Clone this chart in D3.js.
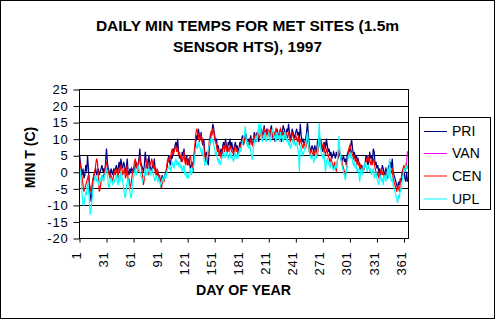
<!DOCTYPE html>
<html>
<head>
<meta charset="utf-8">
<script src="https://cdn.jsdelivr.net/npm/d3@7"></script>
<style>
  html, body { margin: 0; padding: 0; background: #fff; }
  svg { display: block; }
  text { font-family: "Liberation Sans", Arial, sans-serif; fill: #000; }
</style>
</head>
<body>
<svg id="chart" width="497" height="321"></svg>
<script>
// ---- data ----
const titleLines = ["DAILY MIN TEMPS FOR MET SITES (1.5m", "SENSOR HTS), 1997"];
const xTitle = "DAY OF YEAR";
const yTitle = "MIN T (C)";
const seriesNames = ["PRI", "VAN", "CEN", "UPL"];
const seriesColors = ["#000080", "#FF00FF", "#FF0000", "#00FFFF"];
const xTickLabels = ["1","31","61","91","121","151","181","211","241","271","301","331","361"];
const yTickValues = [-20,-15,-10,-5,0,5,10,15,20,25];

const PRI = [
  5.5, 3, 1, -1, 1, -2, -1, 2, 0, 5,
  1, -4, -7, -9, -6, -3, -1, 0, 1, -1,
  0, 1, -1, 0, 1, 2, 0, 1, -1, 3,
  7, 3, 1, 0, -1, 1, 0, -1, 1, 0,
  1, 2, 0, 1, 3, 1, 4, 2, 1, 3,
  2, 0, 1, 4, 0, -1, 1, 0, 1, 0,
  1, 0, 2, 3, 1, 2, 4, 7, 3, 2,
  1, 0, 2, 6, 3, 1, 2, 5, 2, 1,
  0, 2, 1, 4, 1, 0, -1, 0, -1, -2,
  -3, -2, -1, -3, -2, -1, 0, 1, 3, 5,
  3, 2, 5, 4, 7, 6, 8, 9, 7, 10,
  6, 4, 5, 3, 6, 5, 7, 4, 3, 5,
  2, 4, 3, 1, 2, 3, 0, 4, 6, 9,
  11, 10, 13, 11, 10, 12, 9, 8, 10, 6,
  4, 6, 3, 2, 7, 9, 11, 12, 14.5, 13,
  11, 9, 10, 7, 8, 6, 5, 7, 5, 8,
  9, 7, 10, 8, 6, 9, 8, 10, 7, 9,
  7, 6, 8, 9, 7, 8, 6, 7, 9, 8,
  10, 11, 9, 10, 12, 11, 9, 8, 10, 9,
  11, 9, 8, 10, 12, 11, 10, 12, 11, 9,
  12, 11, 13, 10, 12, 14, 11, 12, 13, 11,
  12, 10, 13, 14, 11, 10, 12, 9, 11, 13,
  12, 10, 11, 13, 9, 12, 14, 13, 12, 11,
  13, 12, 14.5, 12, 10, 11, 13, 12, 10, 11,
  12, 13, 11, 12, 10, 14.5, 11, 9, 10, 8,
  9, 10, 12, 15, 11, 8, 7, 6, 8, 7,
  6, 8, 7, 6, 9, 10, 11, 9, 8, 7,
  6, 8, 9, 7, 10, 8, 6, 7, 5, 6,
  4, 5, 6, 5, 4, 6, 5, 4, 6, 5,
  4, 3, 4, 5, 3, 4, 2, 5, 6, 7,
  5, 8, 9.8, 7, 5, 6, 4, 5, 3, 4,
  3, 2, 1, 2, 0, 2, 1, 3, 5, 4,
  2, 3, 6, 4, 5, 3, 7, 6, 2, 3,
  1, 2, 0, 1, -1, 0, 2, 1, -1, 0,
  1, 0, -1, 2, 1, 3, 1, 4, 0, -1,
  -2, -3, -4, -5, -3, -4, -2, -3, 0, -1,
  1, -2, -3, 0, -3
];

const CEN = [
  3.5, 2, 0, -2, -4, -6, -5, -4, -3, -2,
  -1, -3, -5, -6, -4, -2, -1, 0, 2, 4,
  3, -2, -6, -5, -3, -1, -2, -1, 0, 2,
  3, 1, 0, -1, -2, -1, -2, -3, -1, 0,
  -1, 1, 0, -2, 1, 0, 2, 1, -1, 0,
  1, -2, -1, 2, -3, -2, -5, -4, -2, 0,
  1, 3, 4, 2, 1, 0, 3, 5, 2, 1,
  -1, -4, -2, 0, 2, 4, 1, -1, 3, 2,
  4, 3, 1, 2, 0, -1, 1, 0, -2, -1,
  -4, -5, -3, -2, -3, -1, 0, 2, 4, 3,
  5, 4, 6, 7, 5, 6, 7, 8, 6, 7,
  5, 6, 4, 5, 3, 4, 6, 3, 2, 4,
  3, 2, 4, 5, 3, 1, 2, 5, 8, 11,
  13, 12, 11, 9, 10, 11, 10, 9, 8, 5,
  3, 5, 4, 6, 9, 11, 12, 11, 13, 12,
  10, 9, 8, 6, 7, 5, 6, 4, 6, 7,
  8, 6, 9, 7, 6, 7, 6, 8, 7, 6,
  6, 5, 7, 8, 6, 7, 5, 6, 7, 8,
  9, 10, 8, 9, 11, 10, 9, 8, 9, 8,
  10, 9, 8, 9, 11, 10, 9, 11, 12, 10,
  11, 12, 10, 11, 12, 13, 12, 11, 12, 13,
  11, 12, 13, 11, 12, 10, 11, 12, 13, 12,
  11, 10, 12, 13, 12, 11, 12, 11, 10, 12,
  11, 10, 12, 11, 9, 10, 12, 11, 9, 10,
  11, 10, 9, 11, 8, 10, 9, 8, 7, 9,
  8, 7, 9, 10, 8, 6, 5, 7, 6, 5,
  6, 5, 7, 6, 5, 7, 8, 9, 10, 7,
  8, 9, 6, 5, 7, 6, 5, 4, 3, 4,
  3, 2, 1, 3, 2, 0, 3, 5, 7, 6,
  5, 3, 2, 1, 0, -1, 0, 3, 5, 7,
  8, 7, 6, 5, 4, 5, 3, 4, 2, 3,
  2, 1, 2, 1, 0, 2, 1, 2, 3, 4,
  5, 3, 4, 2, 3, 2, 4, 3, 1, 0,
  -1, 0, -2, -1, 0, 1, -1, 0, -2, -1,
  0, -1, -2, 0, 1, -1, 0, 1, -2, -3,
  -4, -5, -6, -4, -5, -6, -3, -2, 0, 1,
  2, 0, 1, 2, 1
];

const UPL = [
  1.5, 0, -3, -7, -10, -10, -8, -6, -7, -3,
  -5, -9, -13, -11, -8, -5, -3, -2, -1, -3,
  -2, -4, -3, -2, -3, -1, -2, -3, -1, 0,
  1, -1, -4, -5, -3, -2, -3, -4, -2, -3,
  -2, -1, -3, -4, -1, -3, 0, -1, -3, -5,
  -7, -8, -5, -3, -2, -4, -6, -8, -7, -3,
  -2, 0, 1, -1, 0, 2, 1, 0, -1, -2,
  -3, -2, -1, 1, 0, -1, 0, 1, 0, -1,
  0, 1, -1, -2, -3, -1, -2, -3, -2, -3,
  -4, -3, -2, -3, -2, -1, -2, 0, 1, 1,
  2, 0, 1, 3, 2, 1, 3, 4, 2, 3,
  2, 3, 1, 2, 0, 1, 2, -1, 0, -2,
  -1, -2, 0, 1, -1, 0, 1, 2, 5, 7,
  8, 7, 9, 8, 7, 6, 5, 7, 4, 2,
  2, 3, 5, 7, 8, 9, 10, 9, 10, 8,
  7, 5, 6, 4, 3, 4, 2, 3, 4, 5,
  6, 5, 4, 6, 5, 4, 5, 6, 4, 5,
  4, 3, 5, 6, 4, 5, 4, 6, 7, 6,
  8, 9, 10, 11, 13.7, 10, 8, 9, 7, 8,
  6, 5, 3.7, 7, 9, 10, 11, 9, 12, 14.5,
  11, 14.5, 10, 9, 11, 10, 12, 9, 10, 11,
  12, 10, 9, 11, 13, 12, 10, 11, 9, 12,
  10, 11, 9, 12, 10, 11, 9, 10, 12, 11,
  9, 10, 8, 9, 7, 8, 9, 10, 8, 9,
  8, 9, 7, 6, 0, 8, 7, 6, 5, 6,
  7, 8, 10, 12, 9, 6, 5, 4, 5, 4,
  3, 4, 5, 4, 6, 8, 14.8, 9, 6, 5,
  4, 6, 3, 0, 3, 4, 3, 2, 1, 3,
  2, 1, 0.5, 1, 2, 1, 3, 7, 10.8, 6,
  4, 2, 1, 0, -1, -2.5, 0, 2, 4, 5,
  6, 4, 5, 3, 2, 3, 1, 2, 0, 1,
  -1, -3, 0, 1, -1, 2, 1, 3, 2, 0,
  1, 2, 0, 1, -1, 0, 1, -2, -1, 0,
  -2, -3, -4, -2, -1, -3, -2, -4, -1, -2,
  -3, -1, 1, -2, 4, -1, -3, -2, -4, -5,
  -6, -7, -8, -9.5, -7, -8, -5, -6, -3, -1,
  1, 0, 2, 1, 2
];

// VAN only recorded at the very end of the year
const VAN_days = [360, 361, 362, 363, 364, 365];
const VAN_vals = [-1, 0, 1, 2, 3, 6.2];

// ---- chart ----
const svg = d3.select("#chart");

// outer chart border
svg.append("rect").attr("x", 0.5).attr("y", 0.5).attr("width", 494).attr("height", 318)
  .attr("fill", "#fff").attr("stroke", "#000").attr("stroke-width", 1);

const plot = {left: 79, right: 408, top: 89, bottom: 238};
const x = d3.scaleLinear().domain([0, 365]).range([plot.left, plot.right]);
const y = d3.scaleLinear().domain([-20, 25]).range([plot.bottom, plot.top]);

// gridlines
svg.append("g").selectAll("line").data(yTickValues).join("line")
  .attr("x1", plot.left).attr("x2", plot.right)
  .attr("y1", d => Math.round(y(d)) + 0.5).attr("y2", d => Math.round(y(d)) + 0.5)
  .attr("stroke", "#000").attr("stroke-width", 1);

// y axis
const yAxis = svg.append("g").attr("transform", `translate(${plot.left + 0.5},0.5)`)
  .call(d3.axisLeft(y).tickValues(yTickValues).tickSize(6).tickPadding(5).tickFormat(d => String(d)));
yAxis.select(".domain").remove();
yAxis.selectAll(".tick line").attr("stroke", "#000");
yAxis.selectAll(".tick text").attr("font-size", 13).attr("letter-spacing", 0.8)
  .attr("font-family", "Liberation Sans, Arial, sans-serif");

// x axis
const xTickVals = xTickLabels.map(d => +d - 1);
const xAxis = svg.append("g").attr("transform", `translate(0.5,${plot.bottom + 0.5})`)
  .call(d3.axisBottom(x).tickValues(xTickVals).tickSize(4).tickFormat((d, i) => xTickLabels[i]));
xAxis.select(".domain").remove();
xAxis.selectAll(".tick line").attr("stroke", "#000");
xAxis.selectAll(".tick text")
  .attr("font-size", 13).attr("letter-spacing", 0.8)
  .attr("font-family", "Liberation Sans, Arial, sans-serif")
  .attr("text-anchor", "end")
  .attr("transform", "translate(-3.5,13) rotate(-90)")
  .attr("x", 0).attr("y", 0).attr("dy", "0.35em");

// series lines
const line = d3.line().defined(d => d.v != null).x(d => x(d.day - 0.5)).y(d => y(d.v));
const seriesData = [
  PRI.map((v, i) => ({day: i + 1, v})),
  VAN_days.map((d, i) => ({day: d, v: VAN_vals[i]})),
  CEN.map((v, i) => ({day: i + 1, v})),
  UPL.map((v, i) => ({day: i + 1, v}))
];
svg.append("g").selectAll("path").data(seriesData).join("path")
  .attr("d", d => line(d))
  .attr("fill", "none")
  .attr("stroke", (d, i) => seriesColors[i])
  .attr("stroke-width", 1.2)
  .attr("stroke-linejoin", "miter");

// plot area border
svg.append("rect").attr("x", plot.left + 0.5).attr("y", plot.top + 0.5)
  .attr("width", plot.right - plot.left).attr("height", plot.bottom - plot.top)
  .attr("fill", "none").attr("stroke", "#000").attr("stroke-width", 1);

// title
svg.append("g").selectAll("text").data(titleLines).join("text")
  .attr("x", 247.5).attr("y", (d, i) => 31 + i * 20.5)
  .attr("text-anchor", "middle").attr("font-weight", "bold").attr("font-size", 15.5)
  .text(d => d);

// axis titles
svg.append("text").attr("x", 243.5).attr("y", 295).attr("text-anchor", "middle")
  .attr("font-weight", "bold").attr("font-size", 14.2).text(xTitle);
svg.append("text").attr("transform", "translate(35,157.5) rotate(-90)")
  .attr("text-anchor", "middle").attr("font-weight", "bold").attr("font-size", 14).text(yTitle);

// legend
const lg = svg.append("g");
lg.append("rect").attr("x", 419.5).attr("y", 117.5).attr("width", 71).attr("height", 92)
  .attr("fill", "#fff").attr("stroke", "#000").attr("stroke-width", 1);
const ly = [131, 153, 175.5, 198.5];
const items = lg.selectAll("g.item").data(seriesNames).join("g").attr("class", "item")
  .attr("transform", (d, i) => `translate(0,${ly[i]})`);
items.append("line").attr("x1", 424).attr("x2", 447).attr("y1", 0.5).attr("y2", 0.5)
  .attr("stroke", (d, i) => seriesColors[i]).attr("stroke-width", 1);
items.append("text").attr("x", 452).attr("y", 0).attr("dy", "0.36em")
  .attr("font-size", 14).text(d => d);
</script>
</body>
</html>
